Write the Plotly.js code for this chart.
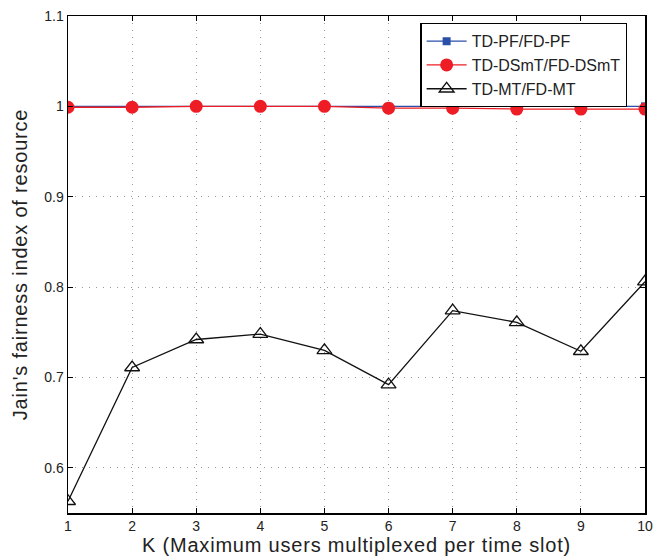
<!DOCTYPE html>
<html><head><meta charset="utf-8">
<script src="https://cdn.plot.ly/plotly-3.0.1.min.js"></script>
<style>body{margin:0;background:#fff}#plot{width:667px;height:557px}
#plot .xtitle,#plot .ytitle{letter-spacing:0.8px}</style>
</head><body><div id="plot"></div>
<script>
const K = [1,2,3,4,5,6,7,8,9,10];
const pf = [1.000,1.000,1.000,1.000,1.000,0.9995,1.000,1.000,1.000,1.000];
const dsmt = [0.999,0.999,1.000,1.000,1.000,0.998,0.998,0.997,0.997,0.997];
const mt = [0.563,0.711,0.742,0.748,0.730,0.692,0.774,0.761,0.729,0.806];
const yTicks = [0.6,0.7,0.8,0.9,1,1.1];
const yTickText = ['0.6','0.7','0.8','0.9','1','1.1'];
const names = ['TD-PF/FD-PF','TD-DSmT/FD-DSmT','TD-MT/FD-MT'];

const traces = [
 {x:K,y:pf,name:names[0],mode:'lines+markers',line:{color:'#2a4fa8',width:1.3},
  marker:{symbol:'square',size:8,color:'#2a4fa8'}},
 {x:K,y:dsmt,name:names[1],mode:'lines+markers',line:{color:'#ee1c25',width:1.3},
  marker:{symbol:'circle',size:13,color:'#ee1c25'}},
 {x:K,y:mt,name:names[2],mode:'lines+markers',line:{color:'#111',width:1.3},
  marker:{symbol:'triangle-up-open',size:13,color:'#111',line:{width:1.3,color:'#111'}}}
];
const ax = {showline:true,linecolor:'#000',linewidth:1.5,mirror:'ticks',ticks:'inside',ticklen:5,
  tickcolor:'#000',showgrid:true,gridcolor:'#999',griddash:'1px,6px',gridwidth:1,zeroline:false,
  tickfont:{family:'Liberation Sans, Arial, sans-serif',size:14,color:'#222'}};
const layout = {
  width:667,height:557,margin:{l:68,r:22,t:16,b:44},
  paper_bgcolor:'#fff',plot_bgcolor:'#fff',
  font:{family:'Liberation Sans, Arial, sans-serif',color:'#222'},
  xaxis:Object.assign({},ax,{range:[1,10],tickvals:K,
    title:{text:'K (Maximum users multiplexed per time slot)',font:{size:20},standoff:0}}),
  yaxis:Object.assign({},ax,{range:[0.55,1.1],tickvals:yTicks,ticktext:yTickText,
    title:{text:"Jain's fairness index of resource",font:{size:20},standoff:11}}),
  legend:{x:0.79,y:0.986,xanchor:'center',yanchor:'top',bgcolor:'#fff',bordercolor:'#000',borderwidth:1.3,
    font:{size:16,color:'#222'},tracegroupgap:0,itemwidth:40},
  showlegend:true
};
Plotly.newPlot('plot',traces,layout,{displayModeBar:false,staticPlot:true});
</script></body></html>
